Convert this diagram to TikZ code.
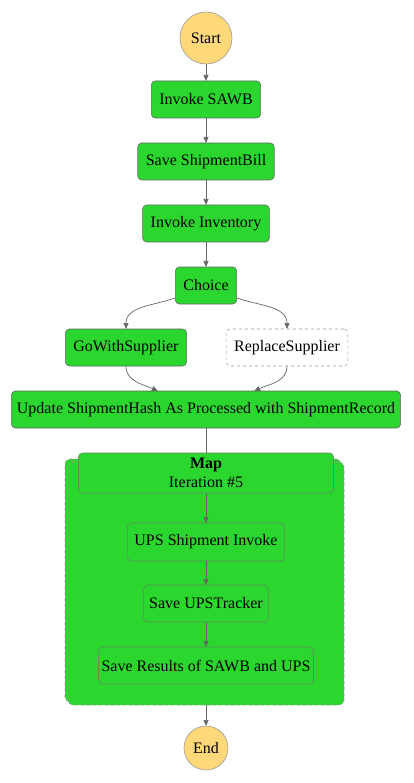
\documentclass[tikz,border=0pt]{standalone}
\usepackage{fontspec}
\setmainfont{Liberation Serif}
\usepackage{tikz}
\usetikzlibrary{arrows.meta, positioning}

\definecolor{stepgreen}{HTML}{2BD62E}
\definecolor{termyellow}{HTML}{FFD879}
\definecolor{termborder}{HTML}{999999}
\definecolor{edgegray}{HTML}{666666}
\definecolor{dashgray}{HTML}{9A9A9A}
\definecolor{innerborder}{HTML}{5E8F5E}

\begin{document}
\begin{tikzpicture}[
    x=1pt, y=1pt,
    every node/.style={font=\fontsize{16pt}{19pt}\selectfont},
    task/.style={rectangle, rounded corners=4pt, draw=edgegray, fill=stepgreen,
                 line width=0.6pt, outer sep=0pt, minimum height=37pt,
                 inner xsep=8pt},
    skipped/.style={task, draw=dashgray, fill=white, dashed},
    mapstep/.style={task, draw=innerborder},
    term/.style={circle, draw=termborder, fill=termyellow, line width=0.6pt,
                 outer sep=0pt, inner sep=0pt},
    maplayer/.style={rectangle, rounded corners=5pt, draw=dashgray, dashed,
                     fill=stepgreen, line width=0.6pt, outer sep=0pt,
                     minimum width=276pt, minimum height=243pt},
    flow/.style={-{Triangle[length=6pt, width=5pt]}, draw=edgegray, line width=0.7pt},
    link/.style={draw=edgegray, line width=0.7pt},
    node distance=25pt
]
\useasboundingbox (0,0) rectangle (414,-783);

% Main chain
\node[term, minimum size=52pt] (start) at (206,-38) {Start};
\node[task, below=17pt of start] (sawb) {Invoke SAWB};
\node[task, below=of sawb] (bill) {Save ShipmentBill};
\node[task, below=of bill] (inventory) {Invoke Inventory};
\node[task, below=of inventory] (choice) {Choice};

% Choice branches
\node[task, below=of choice, xshift=-80pt] (supplier) {GoWithSupplier};
\node[skipped, below=of choice, xshift=81pt] (replace) {ReplaceSupplier};
\node[task, below=87pt of choice, inner xsep=5.5pt] (update)
    {Update ShipmentHash As Processed with ShipmentRecord};

% Map state (stacked iterations)
\node[maplayer] (mapback) at (203,-580.5) {};
\node[maplayer] (map) at (206,-583.5) {};
\node[mapstep, minimum width=255pt, minimum height=40pt, inner ysep=2pt,
      align=center, below=of update] (maphead) {\textbf{Map}\\Iteration \#5};
\node[mapstep, minimum height=38pt, inner xsep=7pt, below=30pt of maphead] (ups)
    {UPS Shipment Invoke};
\node[mapstep, inner xsep=5.5pt, below=24pt of ups] (tracker) {Save UPSTracker};
\node[mapstep, inner xsep=3pt, below=of tracker] (results)
    {Save Results of SAWB and UPS};

\node[term, minimum size=44pt, below=21pt of map] (end) {End};

% Connectors
\draw[flow] (start) -- (sawb);
\draw[flow] (sawb) -- (bill);
\draw[flow] (bill) -- (inventory);
\draw[flow] (inventory) -- (choice);
\draw[flow] (choice.202) to[out=200, in=90] (supplier.north);
\draw[flow] (choice.-22) to[out=-20, in=90] (replace.north);
\draw[flow] (supplier.south) to[out=-90, in=155] (update.159);
\draw[flow] (replace.south) to[out=-90, in=25] (update.21);
\draw[link] (update) -- (maphead);
\draw[flow] (maphead) -- (ups);
\draw[flow] (ups) -- (tracker);
\draw[flow] (tracker) -- (results);
\draw[flow] (map) -- (end);
\end{tikzpicture}
\end{document}
